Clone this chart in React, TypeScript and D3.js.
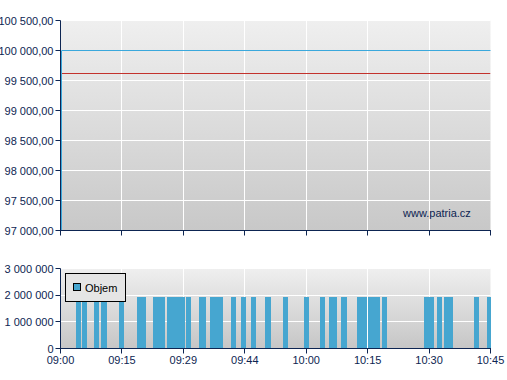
import React from "react";
import * as d3 from "d3";

// ---- data ----
const timeLabels = ["09:00", "09:15", "09:29", "09:44", "10:00", "10:15", "10:30", "10:45"];
const tickMinutes = [0, 15, 30, 45, 60, 75, 90, 105];

const priceTicks = [97000, 97500, 98000, 98500, 99000, 99500, 100000, 100500];
const volumeTicks = [0, 1000000, 2000000, 3000000];

// price series (minutes after 09:00)
const priceMinutes = [0, 0, 105];
const priceValues = [96000, 100000, 100000];
// reference line
const refMinutes = [0, 105];
const refValues = [99617, 99617];

// volume bars: start / end in minutes after 09:00, value
const volStart = [3.79, 5.25, 8.18, 9.89, 14.29, 18.68, 22.59, 26.01, 30.65, 33.82, 36.51, 41.64, 44.08, 46.52, 49.94, 54.34, 59.47, 63.38, 65.58, 68.51, 72.42, 75.11, 78.53, 88.79, 91.96, 93.67, 101.0, 104.2];
const volEnd = [5.01, 6.47, 9.4, 11.35, 15.51, 20.88, 25.52, 30.4, 31.87, 35.53, 39.68, 42.86, 45.3, 47.74, 51.4, 55.56, 60.68, 64.6, 67.54, 69.97, 74.87, 78.04, 79.75, 91.23, 93.18, 95.87, 102.2, 105.4];
const volValues = volStart.map(() => 1930000);

const FONT = "'Liberation Sans', Arial, Helvetica, sans-serif";
const NAVY = "#0d2552";
const BLUE = "#46a6d0";
const LINE_BLUE = "#3aa8dc";
const RED = "#c3322c";

const fmtPrice = (v: number) => {
  const s = d3.format(",.2f")(v);
  return s.replace(/,/g, " ").replace(".", ",");
};
const fmtVol = (v: number) => d3.format(",")(v).replace(/,/g, " ");

export default function App() {
  const W = 507;
  const H = 380;
  const x = d3.scaleLinear().domain([0, 105]).range([60.5, 490.5]);
  const yP = d3.scaleLinear().domain([97000, 100500]).range([230.5, 20.5]);
  const yV = d3.scaleLinear().domain([0, 3000000]).range([348.5, 268.5]);

  const snap = (v: number) => Math.round(v - 0.5) + 0.5;
  const line = d3
    .line<[number, number]>()
    .x((d) => snap(x(d[0])) + 1)
    .y((d) => snap(yP(d[1])));

  const pricePts = priceMinutes.map((m, i) => [m, priceValues[i]] as [number, number]);
  const refPts = refMinutes.map((m, i) => [m, refValues[i]] as [number, number]);

  const pTop = yP(100500);
  const pBot = yP(97000);
  const vTop = yV(3000000);
  const vBot = yV(0);
  const x0 = x(0);
  const x1 = x(105);

  return (
    <svg
      width={W}
      height={H}
      style={{ position: "absolute", left: 0, top: 0, background: "#fff" }}
      fontFamily={FONT}
    >
      <defs>
        <linearGradient id="gTop" x1="0" y1="0" x2="0" y2="1">
          <stop offset="0" stopColor="#efefef" />
          <stop offset="1" stopColor="#c8c8c8" />
        </linearGradient>
        <linearGradient id="gBot" x1="0" y1="0" x2="0" y2="1">
          <stop offset="0" stopColor="#efefef" />
          <stop offset="1" stopColor="#c6c6c6" />
        </linearGradient>
        <clipPath id="cTop">
          <rect x={x0 - 1} y={pTop - 1} width={x1 - x0 + 1} height={pBot - pTop + 1} />
        </clipPath>
        <clipPath id="cBot">
          <rect x={x0 + 0.5} y={vTop} width={x1 - x0} height={vBot - vTop} />
        </clipPath>
      </defs>

      {/* ---- price panel ---- */}
      <rect x={x0} y={pTop} width={x1 - x0} height={pBot - pTop} fill="url(#gTop)" />
      {priceTicks.map((t) => (
        <line key={"hp" + t} x1={x0} x2={x1} y1={yP(t)} y2={yP(t)} stroke="#fff" strokeWidth={1} />
      ))}
      {tickMinutes.slice(1, -1).map((m) => (
        <line key={"vp" + m} x1={snap(x(m))} x2={snap(x(m))} y1={pTop} y2={pBot} stroke="#fff" strokeWidth={1} />
      ))}
      <text x={403} y={217} fontSize={11} fill={NAVY}>
        www.patria.cz
      </text>
      <g clipPath="url(#cTop)">
        <path d={line(refPts.map((p) => [p[0], p[1]] as [number, number])) || ""} fill="none" stroke={RED} strokeWidth={1} transform="translate(-1,0)" />
        <path d={line(pricePts) || ""} fill="none" stroke={LINE_BLUE} strokeWidth={1} />
      </g>
      {/* axes */}
      <line x1={x0} x2={x0} y1={pTop} y2={pBot + 0.5} stroke={NAVY} strokeWidth={1} />
      <line x1={x0} x2={x1 + 0.5} y1={pBot} y2={pBot} stroke={NAVY} strokeWidth={1} />
      {priceTicks.map((t) => (
        <g key={"tp" + t}>
          <line x1={x0 - 5} x2={x0} y1={yP(t)} y2={yP(t)} stroke={NAVY} />
          <text x={53.5} y={yP(t) + 4} fontSize={11} fill={NAVY} textAnchor="end">
            {fmtPrice(t)}
          </text>
        </g>
      ))}
      {tickMinutes.map((m) => (
        <line key={"txp" + m} x1={snap(x(m))} x2={snap(x(m))} y1={pBot} y2={pBot + 5} stroke={NAVY} />
      ))}

      {/* ---- volume panel ---- */}
      <rect x={x0} y={vTop} width={x1 - x0} height={vBot - vTop} fill="url(#gBot)" />
      {volumeTicks.map((t) => (
        <line key={"hv" + t} x1={x0} x2={x1} y1={snap(yV(t))} y2={snap(yV(t))} stroke="#fff" strokeWidth={1} />
      ))}
      {tickMinutes.slice(1, -1).map((m) => (
        <line key={"vv" + m} x1={snap(x(m))} x2={snap(x(m))} y1={vTop} y2={vBot} stroke="#fff" strokeWidth={1} />
      ))}
      <g clipPath="url(#cBot)">
        {volStart.map((s, i) => {
          const bx0 = Math.round(x(s));
          const bx1 = Math.round(x(volEnd[i]));
          const by = Math.round(yV(volValues[i]));
          return (
            <rect
              key={"b" + i}
              x={bx0}
              y={by}
              width={bx1 - bx0}
              height={Math.round(vBot) - by}
              fill={BLUE}
            />
          );
        })}
      </g>
      <line x1={x0} x2={x0} y1={vTop} y2={vBot + 0.5} stroke={NAVY} strokeWidth={1} />
      <line x1={x0} x2={x1 + 0.5} y1={vBot} y2={vBot} stroke={NAVY} strokeWidth={1} />
      {volumeTicks.map((t) => (
        <g key={"tv" + t}>
          <line x1={x0 - 5} x2={x0} y1={snap(yV(t))} y2={snap(yV(t))} stroke={NAVY} />
          <text x={53.5} y={yV(t) + 4} fontSize={11} fill={NAVY} textAnchor="end">
            {fmtVol(t)}
          </text>
        </g>
      ))}
      {tickMinutes.map((m, i) => (
        <g key={"txv" + m}>
          <line x1={snap(x(m))} x2={snap(x(m))} y1={vBot} y2={vBot + 5} stroke={NAVY} />
          <text x={x(m)} y={364} fontSize={11} fill={NAVY} textAnchor="middle">
            {timeLabels[i]}
          </text>
        </g>
      ))}

      {/* legend */}
      <rect x={65.5} y={273.5} width={60} height={28} fill="#e5e5e5" stroke="#000" strokeWidth={1} />
      <rect x={73.5} y={283.5} width={7} height={7} fill={BLUE} stroke="#000" strokeWidth={1} />
      <text x={85} y={292} fontSize={11} fill="#000">
        Objem
      </text>
    </svg>
  );
}
